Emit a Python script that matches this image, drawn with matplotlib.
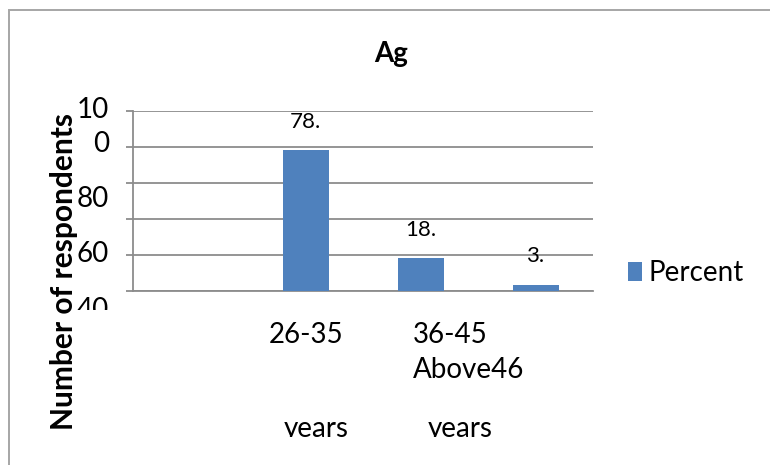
import numpy as np
import matplotlib
matplotlib.use("Agg")
import matplotlib.pyplot as plt
from matplotlib.patches import Rectangle

plt.rcParams["font.family"] = ["Lato", "DejaVu Sans"]

# data (first slot is empty in the source chart)
categories = ["", "26-35 years", "36-45 years", "Above46 years"]
percent    = [np.nan, 78.3, 18.1, 3.6]
bar_labels = ["", "78.", "18.", "3."]
yticks     = [0, 20, 40, 60, 80, 100]

# the broken tick / category text as it appears on the original
ytick_text = ["10", "0", "80", "60", "40"]
ytick_base = [118, 152, 207, 262, 318]          # baseline, image px
xcat_text  = ["26-35", "36-45", "Above46", "years", "years"]

W, H = 770, 465
BLUE = "#4F81BD"
GRID = "#8c8c8c"


def fx(x):
    return x / W


def fy(y):
    return 1 - y / H


fig = plt.figure(figsize=(W / 100, H / 100), dpi=100)
ax = fig.add_axes([fx(133), fy(291), fx(593) - fx(133), fy(110.7) - fy(291)])

x = np.arange(len(categories))
bars = ax.bar(x, percent, width=0.4, color=BLUE, zorder=3, label="Percent")
ax.set_xlim(-0.5, len(categories) - 0.5)
ax.set_ylim(0, 100)
ax.set_yticks(yticks)
ax.set_yticklabels([])
ax.set_xticks([])
ax.yaxis.grid(True, color=GRID, lw=1.3)
ax.set_axisbelow(True)
ax.tick_params(axis="y", length=5, width=1.3, color=GRID, direction="out")
for s in ["top", "right"]:
    ax.spines[s].set_visible(False)
for s in ["left", "bottom"]:
    ax.spines[s].set_color(GRID)
    ax.spines[s].set_linewidth(1.3)

for xi, v, lab in zip(x, percent, bar_labels):
    if lab:
        ax.annotate(lab, (xi, v), xytext=(0, 20.2), textcoords="offset points",
                    ha="center", va="center", fontsize=16)


def clip_axes(y_cut):
    # invisible axes used only to cut text off below y_cut (image px)
    a = fig.add_axes([0, fy(y_cut), 1, 1 - fy(y_cut)])
    a.set_axis_off()
    return a


# y tick text, right aligned, bottom one clipped
cy = clip_axes(310)
for t, b in zip(ytick_text, ytick_base):
    cy.text(fx(109), fy(b), t, ha="right", va="baseline", fontsize=20,
            transform=fig.transFigure, clip_on=True)

# category text, last line clipped
cx = clip_axes(437)
cat_pos = [(306, 343, "center"), (413, 343, "left"), (413, 378, "left"),
           (316, 437, "center"), (460, 437, "center")]
for t, (px, py, ha) in zip(xcat_text, cat_pos):
    cx.text(fx(px), fy(py), t, ha=ha, va="baseline", fontsize=20,
            transform=fig.transFigure, clip_on=True)

fig.text(fx(64), fy(272), "Number of respondents", rotation=90,
         ha="center", va="center", fontsize=21.5, fontweight="bold")
fig.text(fx(391), fy(62), "Ag", ha="center", va="baseline",
         fontsize=20, fontweight="bold")

ax.legend(loc="center left", bbox_to_anchor=(fx(628), fy(273)),
          bbox_transform=fig.transFigure, frameon=False, fontsize=20,
          handlelength=0.5, handleheight=0.65, handletextpad=0.25,
          borderpad=0, borderaxespad=0)

fig.add_artist(Rectangle((fx(9), -0.1), 1.2, fy(10) + 0.1,
                         transform=fig.transFigure, fill=False,
                         edgecolor="#a6a6a6", lw=1.4))

fig.savefig("out.png", dpi=100)
